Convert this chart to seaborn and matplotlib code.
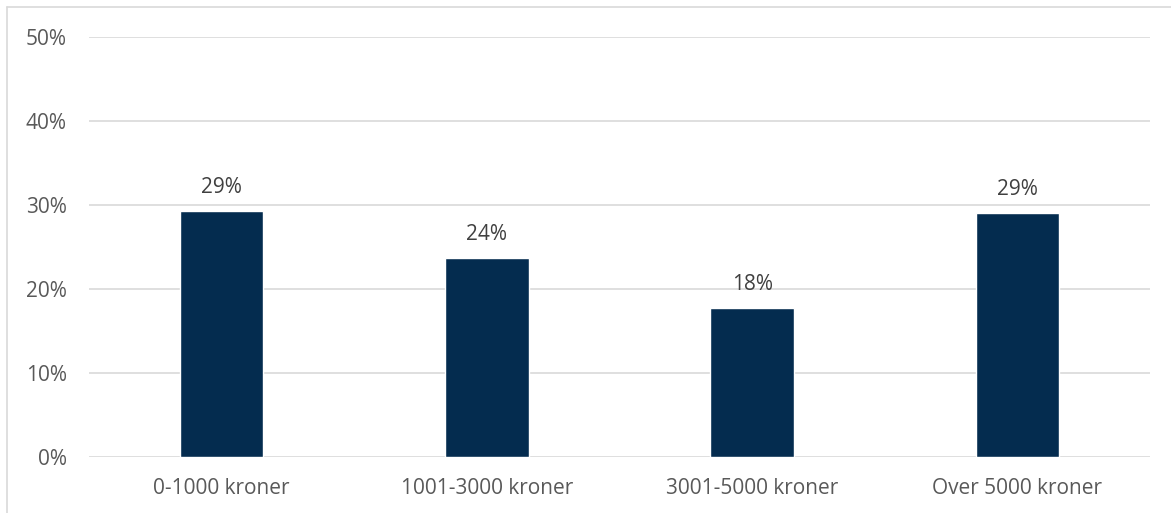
import matplotlib
matplotlib.use("Agg")
import matplotlib.pyplot as plt
import seaborn as sns
import pandas as pd
from matplotlib.lines import Line2D

categories = ["0-1000 kroner", "1001-3000 kroner", "3001-5000 kroner", "Over 5000 kroner"]
values = [0.293, 0.237, 0.178, 0.291]
value_labels = ["29%", "24%", "18%", "29%"]
ytick_vals = [0.0, 0.1, 0.2, 0.3, 0.4, 0.5]
ytick_labels = ["0%", "10%", "20%", "30%", "40%", "50%"]

sns.set_theme(style="white")
plt.rcParams['font.family'] = ['Open Sans', 'DejaVu Sans']

W, H = 1171, 513
fig = plt.figure(figsize=(W / 100, H / 100), dpi=100)
ax = fig.add_axes([89 / W, 1 - 457.3 / H, (1150 - 89) / W, (457.3 - 36.7) / H])

df = pd.DataFrame({"cat": categories, "val": values})
sns.barplot(data=df, x="cat", y="val", color="#042C4F", saturation=1, width=0.315, ax=ax, zorder=3)

ax.set_ylim(0, 0.5)
ax.set_yticks(ytick_vals)
ax.set_yticklabels(ytick_labels)
ax.grid(axis="y", color="#D9D9D9", linewidth=1.2, zorder=0)
ax.set_axisbelow(True)
for s in ax.spines.values():
    s.set_visible(False)
ax.tick_params(axis="both", length=0, labelsize=15, labelcolor="#595959")
ax.tick_params(axis="y", pad=16)
ax.tick_params(axis="x", pad=15)
ax.set_xlabel("")
ax.set_ylabel("")

for i, (v, lab) in enumerate(zip(values, value_labels)):
    ax.annotate(lab, (i, v), xytext=(0, 9), textcoords="offset points",
                ha="center", va="bottom", fontsize=15, color="#404040")

fig.add_artist(Line2D([7 / W, 1], [1 - 7 / H, 1 - 7 / H], color="#D9D9D9", linewidth=1.2, transform=fig.transFigure))
fig.add_artist(Line2D([7 / W, 7 / W], [0, 1 - 7 / H], color="#D9D9D9", linewidth=1.2, transform=fig.transFigure))

fig.savefig("out.png", dpi=100, facecolor="white")
